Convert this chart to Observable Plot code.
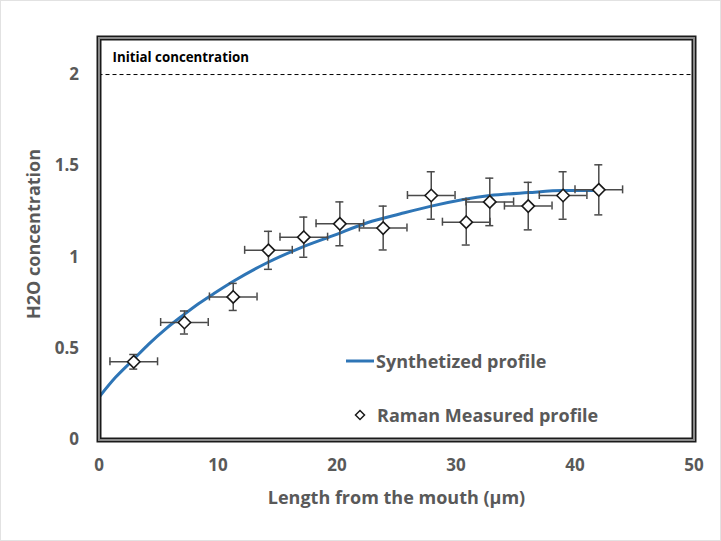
<!DOCTYPE html>
<html><head><meta charset="utf-8">
<script src="https://cdn.jsdelivr.net/npm/d3@7"></script>
<script src="https://cdn.jsdelivr.net/npm/@observablehq/plot@0.6"></script>
<style>
body{margin:0;background:#fff;}
#wrap{position:relative;width:721px;height:541px;overflow:hidden;font-family:"Open Sans",Lato,sans-serif;background:#fff;}
#border{position:absolute;left:0;top:0;width:719px;height:539px;border:1px solid #e2e2e2;pointer-events:none}
.leg{position:absolute;height:20px;display:flex;align-items:center;font-weight:700;font-size:18px;color:#595959;white-space:nowrap;}
.leg svg{display:block}
</style></head><body><div id="wrap"><div id="border"></div></div>
<script>
// Synthetized profile
const curveX = [0, 1.39, 2.79, 4.18, 5.59, 6.99, 8.39, 9.79, 11.33, 14.13, 16.93, 19.73, 22.54, 25.34, 27.92, 32.84, 36.07, 39.0, 41.58];
const curveY = [0.234, 0.343, 0.434, 0.525, 0.607, 0.679, 0.747, 0.807, 0.870, 0.970, 1.052, 1.120, 1.189, 1.238, 1.280, 1.338, 1.354, 1.365, 1.365];
// Raman measured profile
const measX = [2.92, 7.18, 11.28, 14.24, 17.21, 20.24, 23.88, 27.92, 30.86, 32.84, 36.07, 39.0, 42.0];
const measY = [0.428, 0.643, 0.783, 1.038, 1.11, 1.183, 1.16, 1.338, 1.192, 1.303, 1.28, 1.338, 1.369];
const xErr = [2, 2, 2, 2, 2, 2, 2, 2, 2, 2, 2, 2, 2];
const yErr = [0.04, 0.063, 0.074, 0.104, 0.11, 0.12, 0.12, 0.13, 0.125, 0.13, 0.13, 0.13, 0.137];
const initialConc = [2];
const initialLabel = ["Initial concentration"];
const xTicks = [0, 10, 20, 30, 40, 50];
const yTicks = [0, 0.5, 1, 1.5, 2];
const xLabel = "Length from the mouth (\u00b5m)";
const yLabel = "H2O concentration";
const seriesNames = ["Synthetized profile", "Raman Measured profile"];

const curve = curveX.map((x, i) => ({x, y: curveY[i]}));
const measured = measX.map((x, i) => ({x, y: measY[i], ex: xErr[i], ey: yErr[i]}));
const errCol = "#4a4a4a";
const font = "'Open Sans', Lato, sans-serif";

const chart = Plot.plot({
  width: 721, height: 541,
  marginLeft: 98.5, marginRight: 27.5, marginTop: 37.5, marginBottom: 101.5,
  style: {fontFamily: font, fontSize: "17px", fontWeight: 700, color: "#595959", background: "transparent", overflow: "visible"},
  x: {domain: [0, 50], ticks: xTicks, tickSize: 0, tickPadding: 19, tickFormat: d => String(d), label: null},
  y: {domain: [0, 2.2], ticks: yTicks, tickSize: 0, tickPadding: 20, tickFormat: d => String(d), label: null},
  marks: [
    Plot.ruleY(initialConc, {stroke: "#000", strokeWidth: 1, strokeDasharray: "4,3"}),
    Plot.text(initialLabel, {text: d => d, frameAnchor: "top-left", dx: 13.5, dy: 14.5, fontSize: 13.3, fontWeight: 700, fill: "#000"}),
    Plot.line(curve, {x: "x", y: "y", stroke: "#2E75B6", strokeWidth: 3, curve: "monotone-x"}),
    // horizontal error bars
    Plot.ruleY(measured, {y: "y", x1: d => d.x - d.ex, x2: d => d.x + d.ex, stroke: errCol, strokeWidth: 1.5}),
    Plot.ruleX(measured, {x: d => d.x - d.ex, y1: "y", y2: "y", insetTop: -4, insetBottom: -4, stroke: errCol, strokeWidth: 1.5}),
    Plot.ruleX(measured, {x: d => d.x + d.ex, y1: "y", y2: "y", insetTop: -4, insetBottom: -4, stroke: errCol, strokeWidth: 1.5}),
    // vertical error bars
    Plot.ruleX(measured, {x: "x", y1: d => d.y - d.ey, y2: d => d.y + d.ey, stroke: errCol, strokeWidth: 1.5}),
    Plot.ruleY(measured, {y: d => d.y - d.ey, x1: "x", x2: "x", insetLeft: -4, insetRight: -4, stroke: errCol, strokeWidth: 1.5}),
    Plot.ruleY(measured, {y: d => d.y + d.ey, x1: "x", x2: "x", insetLeft: -4, insetRight: -4, stroke: errCol, strokeWidth: 1.5}),
    Plot.dot(measured, {x: "x", y: "y", symbol: "diamond2", r: 5.6, fill: "white", stroke: "#1a1a1a", strokeWidth: 1.6}),
    Plot.frame({stroke: "#1a1a1a", strokeWidth: 5}),
    Plot.frame({stroke: "#8a8a8a", strokeWidth: 2}),
    Plot.text([yLabel], {text: d => d, frameAnchor: "left", rotate: -90, textAnchor: "middle", lineAnchor: "middle", dx: -65, dy: -5, fontSize: 18, fontWeight: 700, fill: "#595959"}),
    Plot.text([xLabel], {text: d => d, frameAnchor: "bottom", textAnchor: "middle", lineAnchor: "middle", dy: 58, fontSize: 18, fontWeight: 700, fill: "#595959"})
  ]
});
const wrap = document.getElementById("wrap");
wrap.insertBefore(chart, wrap.firstChild);

// legend (inside plot area)
const leg1 = document.createElement("div");
leg1.className = "leg";
leg1.style.left = "346px"; leg1.style.top = "351px";
leg1.innerHTML = `<svg width="29" height="20"><line x1="0" y1="10" x2="28" y2="10" stroke="#2E75B6" stroke-width="3"/></svg><span style="margin-left:1px">${seriesNames[0]}</span>`;
wrap.appendChild(leg1);
const leg2 = document.createElement("div");
leg2.className = "leg";
leg2.style.left = "354px"; leg2.style.top = "405px";
leg2.innerHTML = `<svg width="14" height="20"><path d="M6,5.5 L10.5,10 L6,14.5 L1.5,10 Z" fill="white" stroke="#1a1a1a" stroke-width="1.5"/></svg><span style="margin-left:9px">${seriesNames[1]}</span>`;
wrap.appendChild(leg2);
</script>
</body></html>
